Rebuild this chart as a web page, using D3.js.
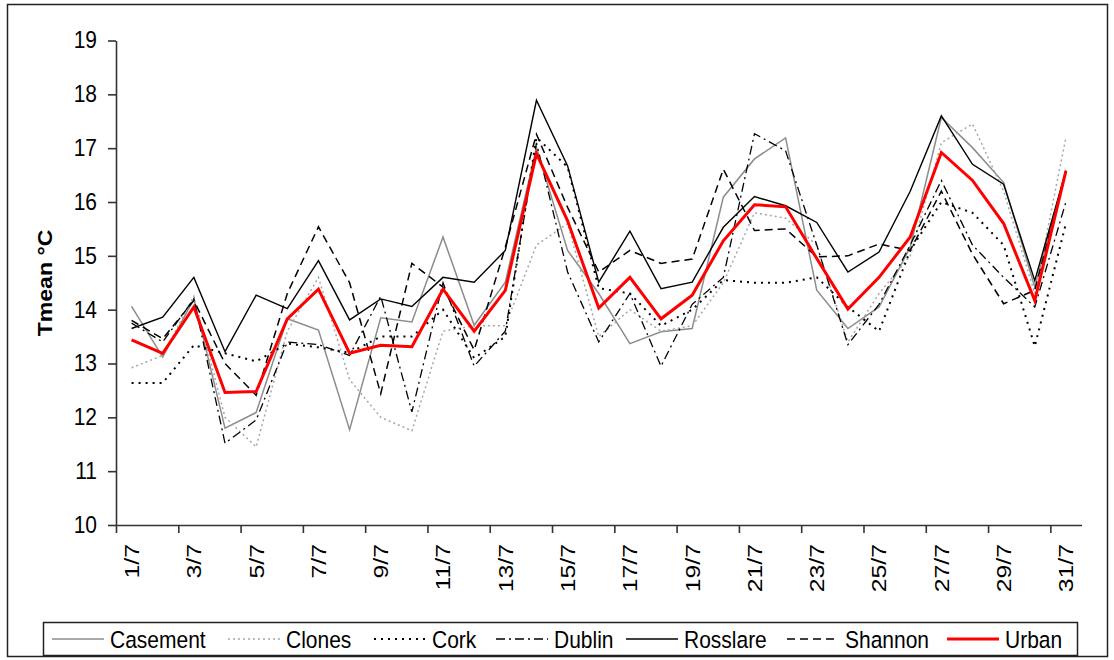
<!DOCTYPE html>
<html>
<head>
<meta charset="utf-8">
<script src="https://cdnjs.cloudflare.com/ajax/libs/d3/7.8.5/d3.min.js"></script>
<style>
  body { margin: 0; background: #fff; }
  text { font-family: Arial, "Liberation Sans", sans-serif; fill: #000; }
</style>
</head>
<body>
<div id="chart-area"></div>
<script>

var days = d3.range(1, 32).map(function(d) { return d + "/7"; });
var yTicks = [10, 11, 12, 13, 14, 15, 16, 17, 18, 19];

var casement = [14.06, 13.12, 14.2, 11.8, 12.09, 13.83, 13.62, 11.77, 13.85, 13.77, 15.35, 13.71, 14.51, 17.01, 15.1, 14.3,
    13.37, 13.59, 13.65, 16.09, 16.8, 17.19, 14.36, 13.65, 14.05, 15.16, 17.57, 17.01, 16.36, 14.42, 16.58];
var clones = [12.92, 13.15, 14.25, 12.0, 11.45, 13.6, 14.6, 12.7, 12.0, 11.75, 13.6, 13.7, 13.7, 15.2, 15.6, 13.5,
    14.0, 13.6, 13.7, 14.5, 15.8, 15.7, 15.2, 13.4, 14.3, 15.0, 17.1, 17.45, 16.2, 14.3, 17.2];
var cork = [12.64, 12.64, 13.34, 13.19, 13.04, 13.37, 13.3, 13.2, 13.5, 13.5, 14.0, 13.1, 13.5, 17.2, 16.65, 14.4,
    14.3, 13.7, 14.0, 14.55, 14.5, 14.5, 14.6, 14.05, 13.6, 15.1, 16.0, 15.8, 15.2, 13.32, 15.6];
var dublin = [13.75, 13.4, 14.2, 11.52, 11.95, 13.4, 13.35, 13.15, 14.25, 12.1, 14.5, 12.95, 13.6, 17.1, 14.7, 13.4,
    14.3, 12.95, 14.1, 14.6, 17.27, 16.95, 15.2, 13.35, 14.1, 15.2, 16.4, 15.2, 14.6, 14.05, 16.0];
var rosslare = [13.65, 13.86, 14.6, 13.22, 14.27, 14.02, 14.91, 13.81, 14.2, 14.06, 14.6, 14.51, 15.1, 17.89, 16.67, 14.51,
    15.46, 14.39, 14.51, 15.53, 16.1, 15.93, 15.62, 14.7, 15.07, 16.2, 17.6, 16.7, 16.33, 14.54, 16.58];
var shannon = [13.8, 13.46, 14.17, 13.0, 12.41, 14.3, 15.54, 14.5, 12.44, 14.86, 14.42, 13.25, 15.16, 17.26, 15.9, 14.7,
    15.1, 14.86, 14.94, 16.61, 15.47, 15.5, 14.98, 15.0, 15.22, 15.1, 16.2, 15.03, 14.11, 14.36, 16.58];
var urban = [13.44, 13.19, 14.05, 12.46, 12.48, 13.83, 14.38, 13.19, 13.34, 13.31, 14.38, 13.6, 14.36, 16.9, 15.65, 14.03,
    14.6, 13.83, 14.27, 15.28, 15.95, 15.91, 14.95, 14.01, 14.6, 15.35, 16.92, 16.4, 15.6, 14.17, 16.58];

var series = [
    { name: "Casement", values: casement, color: "#8c8c8c", width: 1.5, dash: null },
    { name: "Clones",   values: clones,   color: "#a6a6a6", width: 1.5, dash: "2,3" },
    { name: "Cork",     values: cork,     color: "#000",    width: 2,   dash: "2,5" },
    { name: "Dublin",   values: dublin,   color: "#000",    width: 1.3, dash: "9,4,2,4" },
    { name: "Rosslare", values: rosslare, color: "#000",    width: 1.4, dash: null },
    { name: "Shannon",  values: shannon,  color: "#000",    width: 1.5, dash: "8,5" },
    { name: "Urban",    values: urban,    color: "#ff0000", width: 3,   dash: null }
];

var W = 1114, H = 660;
var plot = { left: 116, right: 1081.5, top: 40.5, bottom: 525 };
var stretch = 1.18;   // text in the picture is a little taller than wide

var svg = d3.select("#chart-area")
    .append("svg")
        .attr("width", W)
        .attr("height", H);

// outer frame
svg.append("rect")
    .attr("x", 7.5).attr("y", 4.5)
    .attr("width", 1100).attr("height", 652)
    .attr("fill", "none")
    .attr("stroke", "#222")
    .attr("stroke-width", 1.5);

// X scale: linear over category slots, points at slot centres
var x = d3.scaleLinear()
    .domain([0, days.length])
    .range([plot.left, plot.right]);

var y = d3.scaleLinear()
    .domain([10, 19])
    .range([plot.bottom, plot.top]);

// Y axis
var yAxisCall = d3.axisLeft(y)
    .tickValues(yTicks)
    .tickSize(8)
    .tickSizeOuter(0)
    .tickPadding(11);
var yAxis = svg.append("g")
    .attr("transform", "translate(" + plot.left + ",0)")
    .call(yAxisCall);
yAxis.selectAll("text")
    .attr("font-size", "21px")
    .attr("font-family", "Arial, 'Liberation Sans', sans-serif")
    .attr("fill", "#000")
    .attr("dy", "0.3em")
    .attr("transform", "scale(1," + stretch + ")");

// X axis tick marks (between categories, every 2nd)
var xTickCall = d3.axisBottom(x)
    .tickValues(d3.range(0, days.length, 2))
    .tickSize(8)
    .tickSizeOuter(0)
    .tickFormat("");
svg.append("g")
    .attr("transform", "translate(0," + plot.bottom + ")")
    .call(xTickCall);

// X labels at category centres
var labelIdx = d3.range(0, days.length, 2);
svg.selectAll(".xlab")
    .data(labelIdx)
    .enter()
    .append("text")
        .attr("class", "xlab")
        .attr("transform", function(i) {
            return "translate(" + x(i + 0.5) + "," + (plot.bottom + 19) + ") rotate(-90) scale(" + stretch + ",1)";
        })
        .attr("text-anchor", "end")
        .attr("dy", "0.35em")
        .attr("font-size", "21px")
        .text(function(i) { return days[i]; });

svg.selectAll(".domain, .tick line")
    .attr("stroke", "#333")
    .attr("stroke-width", 1.6);

// Y Label
svg.append("text")
    .attr("transform", "translate(52,283) rotate(-90) scale(1.1,1)")
    .attr("text-anchor", "middle")
    .attr("font-size", "21px")
    .attr("font-weight", "bold")
    .text("Tmean \u00B0C");

// Lines
var line = d3.line()
    .x(function(d, i) { return x(i + 0.5); })
    .y(function(d) { return y(d); });

svg.selectAll(".series")
    .data(series)
    .enter()
    .append("path")
        .attr("class", "series")
        .attr("d", function(s) { return line(s.values); })
        .attr("fill", "none")
        .attr("stroke", function(s) { return s.color; })
        .attr("stroke-width", function(s) { return s.width; })
        .attr("stroke-dasharray", function(s) { return s.dash; })
        .attr("stroke-linejoin", "miter");

// Legend
var legend = svg.append("g");
legend.append("rect")
    .attr("x", 43.5).attr("y", 622.5)
    .attr("width", 1034).attr("height", 33)
    .attr("fill", "#fff")
    .attr("stroke", "#222")
    .attr("stroke-width", 1.5);

var legendX = [52, 228, 374, 496, 626, 787, 947];
var items = legend.selectAll(".item")
    .data(series)
    .enter()
    .append("g")
        .attr("class", "item")
        .attr("transform", function(s, i) { return "translate(" + legendX[i] + ",639)"; });

items.append("line")
    .attr("x1", 0).attr("x2", 52)
    .attr("stroke", function(s) { return s.color; })
    .attr("stroke-width", function(s) { return s.width; })
    .attr("stroke-dasharray", function(s) { return s.dash; });

items.append("text")
    .attr("x", 58)
    .attr("dy", "0.35em")
    .attr("font-size", "21px")
    .attr("transform", "scale(1," + stretch + ")")
    .text(function(s) { return s.name; });

</script>
</body>
</html>
